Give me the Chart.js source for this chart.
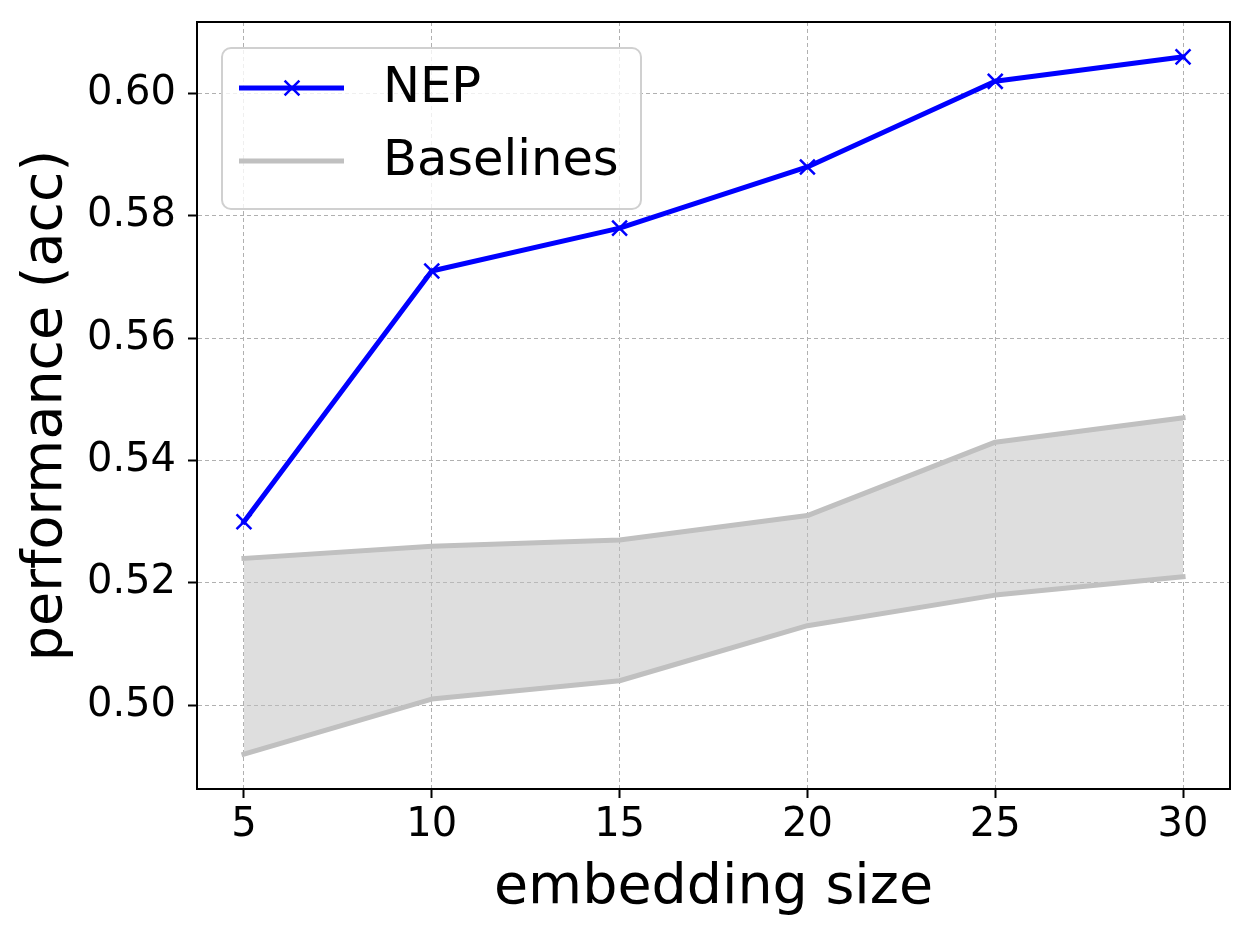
<!DOCTYPE html>
<html>
<head>
<meta charset="utf-8">
<script src="https://cdn.jsdelivr.net/npm/chart.js@4"></script>
<style>
html,body{margin:0;padding:0;background:#fff;}
#wrap{width:1254px;height:934px;}
</style>
</head>
<body>
<div id="wrap"><canvas id="c" width="1254" height="934"></canvas></div>
<script>
const sizes = [5, 10, 15, 20, 25, 30];
const nepValues = [0.530, 0.571, 0.578, 0.588, 0.602, 0.606];
const baselineUpper = [0.524, 0.526, 0.527, 0.531, 0.543, 0.547];
const baselineLower = [0.492, 0.501, 0.504, 0.513, 0.518, 0.521];
const xTickValues = [5, 10, 15, 20, 25, 30];
const yTickValues = [0.50, 0.52, 0.54, 0.56, 0.58, 0.60];
const seriesLabels = ['NEP', 'Baselines'];

const FONT = '"DejaVu Sans", "Liberation Sans", sans-serif';
const toPts = (xs, ys) => xs.map((x, i) => ({x: x, y: ys[i]}));

const framePlugin = {
  id: 'frame',
  afterDatasetsDraw(chart) {
    const {ctx, chartArea: a} = chart;
    ctx.save();
    ctx.strokeStyle = '#000';
    ctx.lineWidth = 2;
    ctx.strokeRect(a.left, a.top, a.right - a.left, a.bottom - a.top);
    ctx.restore();
  }
};

const legendPlugin = {
  id: 'customLegend',
  afterDraw(chart) {
    const {ctx, chartArea: a} = chart;
    const bx = a.left + 25, by = a.top + 26, bw = 419, bh = 161, r = 9;
    ctx.save();
    ctx.beginPath();
    ctx.moveTo(bx + r, by);
    ctx.arcTo(bx + bw, by, bx + bw, by + bh, r);
    ctx.arcTo(bx + bw, by + bh, bx, by + bh, r);
    ctx.arcTo(bx, by + bh, bx, by, r);
    ctx.arcTo(bx, by, bx + bw, by, r);
    ctx.closePath();
    ctx.fillStyle = 'rgba(255,255,255,0.8)';
    ctx.fill();
    ctx.strokeStyle = '#d0d0d0';
    ctx.lineWidth = 2;
    ctx.stroke();

    const ds = chart.data.datasets;
    const rows = [
      {label: seriesLabels[0], color: ds[0].borderColor, marker: true, y: by + 40},
      {label: seriesLabels[1], color: ds[1].borderColor, marker: false, y: by + 113}
    ];
    rows.forEach(row => {
      ctx.beginPath();
      ctx.moveTo(bx + 17, row.y);
      ctx.lineTo(bx + 122, row.y);
      ctx.strokeStyle = row.color;
      ctx.lineWidth = 5;
      ctx.lineCap = 'butt';
      ctx.stroke();
      if (row.marker) {
        const cx = bx + 70, d = 7.4;
        ctx.beginPath();
        ctx.moveTo(cx - d, row.y - d); ctx.lineTo(cx + d, row.y + d);
        ctx.moveTo(cx - d, row.y + d); ctx.lineTo(cx + d, row.y - d);
        ctx.lineWidth = 2.5;
        ctx.stroke();
      }
      ctx.fillStyle = '#000';
      ctx.font = '49.5px ' + FONT;
      ctx.textBaseline = 'middle';
      ctx.textAlign = 'left';
      ctx.fillText(row.label, bx + 161, row.y + 1);
    });
    ctx.restore();
  }
};

new Chart(document.getElementById('c'), {
  type: 'line',
  data: {
    datasets: [
      {
        label: seriesLabels[0],
        data: toPts(sizes, nepValues),
        borderColor: '#0000ff',
        backgroundColor: '#0000ff',
        borderWidth: 5,
        pointStyle: 'crossRot',
        pointRadius: 10.5,
        pointBorderWidth: 2.5,
        pointHoverRadius: 10.5,
        borderJoinStyle: 'round',
        borderCapStyle: 'square',
        tension: 0,
        fill: false
      },
      {
        label: seriesLabels[1],
        data: toPts(sizes, baselineUpper),
        borderColor: '#c0c0c0',
        backgroundColor: 'rgba(192,192,192,0.52)',
        borderWidth: 5,
        pointRadius: 0,
        borderJoinStyle: 'round',
        borderCapStyle: 'square',
        tension: 0,
        fill: '+1'
      },
      {
        label: 'Baselines lower',
        data: toPts(sizes, baselineLower),
        borderColor: '#c0c0c0',
        backgroundColor: 'rgba(192,192,192,0.52)',
        borderWidth: 5,
        pointRadius: 0,
        borderJoinStyle: 'round',
        borderCapStyle: 'square',
        tension: 0,
        fill: false
      }
    ]
  },
  options: {
    responsive: false,
    animation: false,
    devicePixelRatio: 1,
    layout: {padding: {left: 0, top: 22, right: 24, bottom: 0}},
    plugins: {
      legend: {display: false},
      tooltip: {enabled: false},
      filler: {propagate: false}
    },
    scales: {
      x: {
        type: 'linear',
        min: 3.75,
        max: 31.25,
        afterFit(scale) { scale.height = 145; scale.paddingLeft = 0; scale.paddingRight = 0; },
        afterBuildTicks(scale) { scale.ticks = xTickValues.map(v => ({value: v})); },
        ticks: {
          color: '#000',
          font: {family: FONT, size: 40},
          padding: 4,
          maxRotation: 0,
          autoSkip: false,
          callback: v => String(v)
        },
        grid: {
          color: '#b0b0b0',
          lineWidth: 1,
          tickColor: '#000',
          tickLength: 9,
          tickWidth: 2
        },
        border: {display: true, color: '#000', width: 2, dash: [4, 3]},
        title: {
          display: true,
          text: 'embedding size',
          color: '#000',
          font: {family: FONT, size: 55.5},
          padding: {top: 0, bottom: 12}
        }
      },
      y: {
        type: 'linear',
        min: 0.4863,
        max: 0.6117,
        afterFit(scale) { scale.width = 197; scale.paddingTop = 0; scale.paddingBottom = 0; },
        afterBuildTicks(scale) { scale.ticks = yTickValues.map(v => ({value: v})); },
        ticks: {
          color: '#000',
          font: {family: FONT, size: 40},
          padding: 12,
          autoSkip: false,
          callback: v => Number(v).toFixed(2)
        },
        grid: {
          color: '#b0b0b0',
          lineWidth: 1,
          tickColor: '#000',
          tickLength: 9,
          tickWidth: 2
        },
        border: {display: true, color: '#000', width: 2, dash: [4, 3]},
        title: {
          display: true,
          text: 'performance (acc)',
          color: '#000',
          font: {family: FONT, size: 55.5},
          padding: {top: 13, bottom: 0}
        }
      }
    }
  },
  plugins: [framePlugin, legendPlugin]
});
</script>
</body>
</html>
